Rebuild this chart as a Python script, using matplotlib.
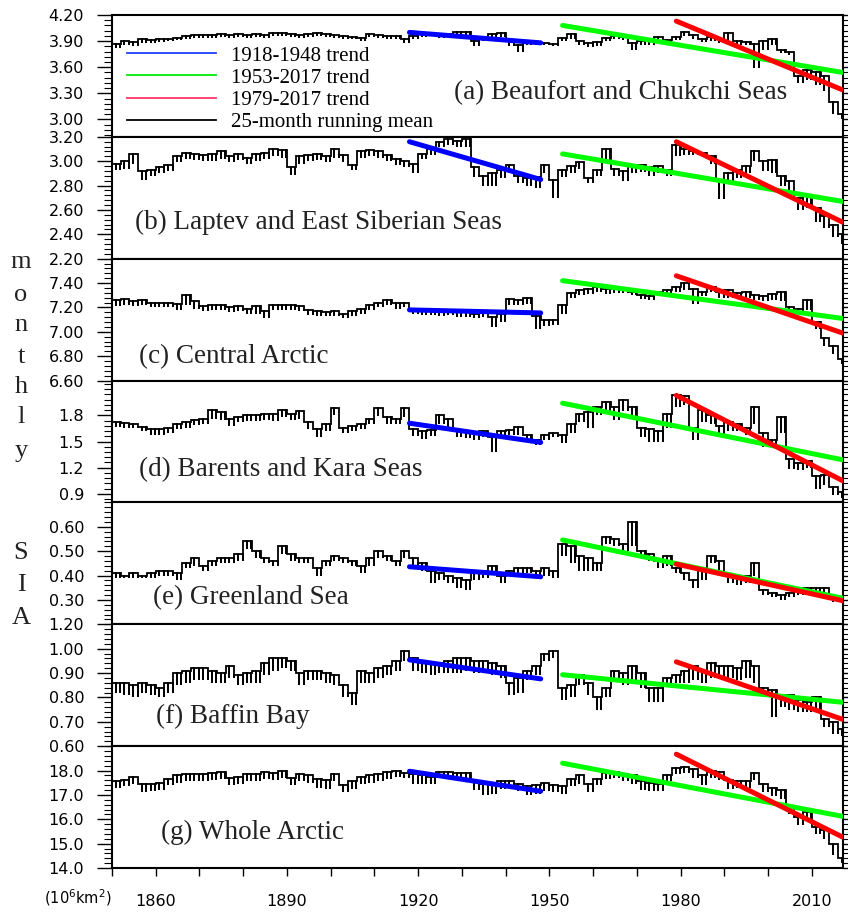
import numpy as np
import matplotlib
matplotlib.use('Agg')
import matplotlib.pyplot as plt
from matplotlib.lines import Line2D
from matplotlib.ticker import MultipleLocator, FixedLocator

# ---------------- data ----------------
bin_start = np.arange(1850, 2017, 2)   # 2-year bins, 1850..2016

# (a) Beaufort and Chukchi Seas: level and spike bottom per bin
bcs_hi = [3.87, 3.90, 3.89, 3.92, 3.91,
          3.92, 3.93, 3.94, 3.96, 3.97,
          3.97, 3.97, 3.98, 3.97, 3.98,
          3.97, 3.98, 3.97, 3.99, 3.99,
          3.98, 3.97, 3.98, 3.99, 3.98,
          3.97, 3.96, 3.95, 3.94, 3.98,
          3.97, 3.96, 3.96, 3.92, 3.96,
          3.98, 3.99, 3.97, 3.98, 4.01,
          4.01, 3.90, 3.94, 3.98, 3.99,
          3.90, 3.85, 3.89, 3.89, 3.88,
          3.87, 3.94, 3.98, 3.90, 3.88,
          3.89, 3.94, 3.96, 3.95, 3.88,
          3.90, 3.91, 3.95, 3.91, 3.95,
          4.00, 3.97, 3.93, 3.95, 3.92,
          3.99, 3.90, 3.89, 3.87, 3.90,
          3.93, 3.80, 3.78, 3.50, 3.57,
          3.55, 3.50, 3.20, 3.06]
bcs_lo = [3.82, 3.85, 3.84, 3.88, 3.88,
          3.89, 3.90, 3.91, 3.93, 3.94,
          3.94, 3.94, 3.95, 3.94, 3.95,
          3.94, 3.95, 3.94, 3.96, 3.96,
          3.95, 3.94, 3.95, 3.96, 3.95,
          3.94, 3.93, 3.92, 3.90, 3.95,
          3.94, 3.93, 3.92, 3.88, 3.92,
          3.95, 3.96, 3.94, 3.95, 3.97,
          3.96, 3.84, 3.90, 3.94, 3.95,
          3.84, 3.78, 3.85, 3.86, 3.85,
          3.84, 3.90, 3.93, 3.85, 3.83,
          3.84, 3.90, 3.93, 3.91, 3.80,
          3.85, 3.86, 3.89, 3.86, 3.91,
          3.96, 3.92, 3.89, 3.90, 3.88,
          3.90, 3.85, 3.85, 3.59, 3.80,
          3.85, 3.76, 3.74, 3.42, 3.45,
          3.40, 3.33, 3.06, 3.00]

# (b) Laptev and East Siberian Seas
les_hi = [2.98, 3.00, 3.06, 2.92, 2.93,
          2.95, 2.97, 3.04, 3.07, 3.06,
          3.05, 3.06, 3.08, 3.04, 3.06,
          3.03, 3.06, 3.07, 3.10, 3.09,
          2.95, 3.04, 3.05, 3.06, 3.04,
          3.10, 3.05, 2.97, 3.08, 3.09,
          3.08, 3.05, 3.02, 3.00, 2.98,
          3.06, 3.10, 3.16, 3.18, 3.17,
          3.18, 2.95, 2.88, 2.90, 2.93,
          2.97, 2.88, 2.86, 2.87, 2.97,
          2.85, 2.93, 2.96, 2.99, 2.86,
          2.93, 3.10, 2.94, 2.92, 2.96,
          2.97, 2.95, 2.96, 2.93, 3.13,
          3.10, 3.08, 3.07, 3.04, 2.85,
          2.90, 2.93, 2.96, 3.08, 3.00,
          3.01, 2.88, 2.84, 2.70, 2.72,
          2.62, 2.55, 2.48, 2.40]
les_lo = [2.93, 2.94, 2.98, 2.85, 2.88,
          2.90, 2.92, 2.99, 3.02, 3.01,
          3.00, 3.00, 3.02, 2.99, 3.01,
          2.98, 3.00, 3.02, 3.04, 3.03,
          2.89, 2.98, 3.00, 3.01, 2.99,
          3.03, 2.99, 2.93, 3.03, 3.04,
          3.03, 3.00, 2.97, 2.95, 2.90,
          3.02, 3.05, 3.12, 3.13, 3.12,
          3.12, 2.87, 2.80, 2.80, 2.86,
          2.90, 2.82, 2.80, 2.78, 2.90,
          2.70, 2.87, 2.90, 2.94, 2.82,
          2.88, 3.00, 2.88, 2.84, 2.90,
          2.91, 2.88, 2.90, 2.88, 3.04,
          3.05, 3.05, 3.04, 2.98, 2.69,
          2.82, 2.86, 2.90, 3.00, 2.92,
          2.90, 2.80, 2.75, 2.60, 2.62,
          2.50, 2.45, 2.38, 2.32]

# (c) Central Arctic
cen_hi = [7.26, 7.27, 7.25, 7.26, 7.24,
          7.24, 7.24, 7.23, 7.30, 7.25,
          7.21, 7.22, 7.22, 7.20, 7.21,
          7.19, 7.21, 7.17, 7.22, 7.22,
          7.22, 7.21, 7.18, 7.17, 7.16,
          7.17, 7.15, 7.17, 7.19, 7.22,
          7.24, 7.26, 7.24, 7.24, 7.19,
          7.17, 7.18, 7.17, 7.18, 7.17,
          7.16, 7.15, 7.16, 7.12, 7.15,
          7.27, 7.26, 7.28, 7.13, 7.10,
          7.10, 7.22, 7.32, 7.34, 7.35,
          7.37, 7.35, 7.36, 7.36, 7.33,
          7.30, 7.29, 7.33, 7.34, 7.37,
          7.40, 7.35, 7.33, 7.37, 7.33,
          7.34, 7.32, 7.33, 7.30, 7.29,
          7.31, 7.33, 7.20, 7.19, 7.26,
          7.08, 6.95, 6.88, 6.78]
cen_lo = [7.21, 7.22, 7.21, 7.22, 7.20,
          7.20, 7.20, 7.18, 7.22, 7.19,
          7.17, 7.18, 7.18, 7.16, 7.17,
          7.15, 7.15, 7.11, 7.18, 7.18,
          7.18, 7.17, 7.14, 7.13, 7.13,
          7.13, 7.11, 7.13, 7.15, 7.18,
          7.20, 7.22, 7.19, 7.20, 7.15,
          7.14, 7.14, 7.13, 7.14, 7.12,
          7.12, 7.11, 7.12, 7.04, 7.08,
          7.22, 7.22, 7.23, 7.02, 7.05,
          7.06, 7.15, 7.28, 7.30, 7.31,
          7.33, 7.31, 7.32, 7.32, 7.30,
          7.27, 7.26, 7.29, 7.30, 7.33,
          7.34, 7.23, 7.29, 7.33, 7.28,
          7.28, 7.27, 7.28, 7.26, 7.25,
          7.26, 7.25, 7.16, 7.15, 7.18,
          7.02, 6.88, 6.82, 6.74]

# (d) Barents and Kara Seas
bks_hi = [1.72, 1.71, 1.70, 1.67, 1.64,
          1.64, 1.66, 1.70, 1.72, 1.75,
          1.76, 1.86, 1.84, 1.76, 1.78,
          1.80, 1.80, 1.82, 1.82, 1.86,
          1.82, 1.85, 1.72, 1.64, 1.70,
          1.89, 1.66, 1.68, 1.70, 1.76,
          1.88, 1.78, 1.76, 1.88, 1.64,
          1.62, 1.63, 1.80, 1.76, 1.62,
          1.61, 1.60, 1.62, 1.55, 1.62,
          1.63, 1.67, 1.58, 1.52, 1.58,
          1.60, 1.58, 1.70, 1.82, 1.84,
          1.90, 1.95, 1.90, 1.98, 1.90,
          1.66, 1.64, 1.62, 1.82, 2.03,
          2.02, 1.65, 1.86, 1.80, 1.68,
          1.72, 1.70, 1.65, 1.90, 1.60,
          1.52, 1.78, 1.30, 1.25, 1.28,
          1.10, 1.12, 0.98, 0.92]
bks_lo = [1.67, 1.66, 1.65, 1.62, 1.58,
          1.58, 1.60, 1.64, 1.66, 1.69,
          1.70, 1.76, 1.75, 1.68, 1.72,
          1.73, 1.74, 1.75, 1.74, 1.78,
          1.75, 1.76, 1.64, 1.55, 1.62,
          1.80, 1.60, 1.62, 1.64, 1.70,
          1.79, 1.70, 1.70, 1.78, 1.56,
          1.53, 1.56, 1.70, 1.67, 1.55,
          1.54, 1.52, 1.55, 1.38, 1.55,
          1.57, 1.58, 1.50, 1.46, 1.52,
          1.55, 1.48, 1.60, 1.72, 1.65,
          1.80, 1.85, 1.75, 1.85, 1.78,
          1.55, 1.50, 1.50, 1.65, 1.90,
          1.92, 1.52, 1.72, 1.70, 1.58,
          1.62, 1.62, 1.58, 1.70, 1.44,
          1.45, 1.60, 1.18, 1.17, 1.20,
          0.95, 1.00, 0.88, 0.85]

# (e) Greenland Sea
grs_hi = [0.41, 0.40, 0.41, 0.40, 0.41,
          0.42, 0.42, 0.41, 0.45, 0.47,
          0.44, 0.46, 0.47, 0.47, 0.49,
          0.54, 0.50, 0.47, 0.46, 0.52,
          0.49, 0.47, 0.47, 0.43, 0.46,
          0.48, 0.47, 0.46, 0.44, 0.47,
          0.50, 0.48, 0.46, 0.50, 0.47,
          0.45, 0.42, 0.41, 0.40, 0.39,
          0.38, 0.41, 0.42, 0.44, 0.40,
          0.42, 0.43, 0.43, 0.42, 0.43,
          0.42, 0.53, 0.52, 0.48, 0.47,
          0.45, 0.56, 0.55, 0.53, 0.62,
          0.50, 0.49, 0.46, 0.48, 0.43,
          0.41, 0.38, 0.43, 0.48, 0.46,
          0.40, 0.39, 0.40, 0.45, 0.34,
          0.33, 0.32, 0.33, 0.34, 0.35,
          0.35, 0.35, 0.31, 0.30]
grs_lo = [0.39, 0.39, 0.39, 0.39, 0.39,
          0.40, 0.40, 0.38, 0.43, 0.44,
          0.42, 0.44, 0.45, 0.45, 0.46,
          0.51, 0.47, 0.45, 0.44, 0.49,
          0.46, 0.45, 0.45, 0.40, 0.44,
          0.46, 0.45, 0.44, 0.41, 0.44,
          0.47, 0.46, 0.44, 0.47, 0.44,
          0.42, 0.37, 0.38, 0.37, 0.35,
          0.34, 0.38, 0.39, 0.41, 0.37,
          0.40, 0.41, 0.41, 0.39, 0.40,
          0.39, 0.48, 0.45, 0.42, 0.42,
          0.42, 0.53, 0.52, 0.50, 0.52,
          0.47, 0.46, 0.43, 0.44, 0.41,
          0.38, 0.35, 0.38, 0.45, 0.42,
          0.37, 0.36, 0.37, 0.40, 0.32,
          0.31, 0.30, 0.31, 0.32, 0.33,
          0.33, 0.32, 0.29, 0.29]

# (f) Baffin Bay
bfb_hi = [0.86, 0.86, 0.85, 0.86, 0.85,
          0.84, 0.86, 0.90, 0.91, 0.92,
          0.92, 0.91, 0.90, 0.93, 0.89,
          0.90, 0.91, 0.94, 0.96, 0.96,
          0.95, 0.90, 0.91, 0.91, 0.90,
          0.89, 0.85, 0.82, 0.91, 0.90,
          0.92, 0.93, 0.95, 0.99, 0.96,
          0.95, 0.94, 0.94, 0.95, 0.96,
          0.96, 0.95, 0.95, 0.94, 0.93,
          0.86, 0.88, 0.91, 0.93, 0.98,
          0.99, 0.84, 0.85, 0.89, 0.86,
          0.80, 0.84, 0.91, 0.90, 0.93,
          0.90, 0.84, 0.84, 0.88, 0.89,
          0.91, 0.93, 0.91, 0.94, 0.93,
          0.93, 0.92, 0.95, 0.93, 0.84,
          0.83, 0.80, 0.81, 0.79, 0.78,
          0.80, 0.71, 0.70, 0.67]
bfb_lo = [0.82, 0.81, 0.80, 0.82, 0.81,
          0.80, 0.82, 0.85, 0.86, 0.87,
          0.87, 0.86, 0.86, 0.88, 0.85,
          0.86, 0.86, 0.89, 0.91, 0.92,
          0.91, 0.85, 0.87, 0.87, 0.86,
          0.85, 0.80, 0.77, 0.86, 0.86,
          0.88, 0.89, 0.91, 0.95, 0.91,
          0.90, 0.89, 0.90, 0.90, 0.90,
          0.91, 0.90, 0.90, 0.89, 0.88,
          0.81, 0.82, 0.87, 0.89, 0.95,
          0.96, 0.79, 0.80, 0.85, 0.81,
          0.75, 0.80, 0.87, 0.85, 0.86,
          0.84, 0.78, 0.78, 0.85, 0.86,
          0.86, 0.87, 0.86, 0.88, 0.88,
          0.88, 0.87, 0.88, 0.86, 0.81,
          0.72, 0.76, 0.75, 0.74, 0.74,
          0.75, 0.68, 0.65, 0.64]

# (g) Whole Arctic
wha_hi = [17.55, 17.60, 17.75, 17.45, 17.45,
          17.50, 17.65, 17.80, 17.85, 17.85,
          17.85, 17.90, 17.95, 17.70, 17.75,
          17.85, 17.85, 17.95, 17.90, 18.00,
          17.70, 17.85, 17.80, 17.65, 17.60,
          17.85, 17.40, 17.55, 17.75, 17.80,
          17.85, 17.95, 18.00, 17.90, 17.85,
          17.80, 17.75, 17.95, 17.95, 17.90,
          17.90, 17.55, 17.45, 17.40, 17.55,
          17.55, 17.45, 17.35, 17.40, 17.50,
          17.40, 17.35, 17.65, 17.80, 17.45,
          17.65, 17.90, 17.95, 17.85, 17.80,
          17.55, 17.50, 17.45, 17.80, 18.10,
          18.15, 18.05, 17.80, 18.00, 17.95,
          17.60, 17.55, 17.55, 17.90, 17.45,
          17.30, 17.20, 16.50, 16.10, 16.30,
          15.70, 15.55, 15.00, 14.40]
wha_lo = [17.30, 17.35, 17.45, 17.10, 17.15,
          17.20, 17.40, 17.50, 17.55, 17.55,
          17.55, 17.60, 17.65, 17.40, 17.45,
          17.55, 17.55, 17.65, 17.60, 17.70,
          17.40, 17.55, 17.50, 17.30, 17.25,
          17.55, 17.10, 17.25, 17.45, 17.50,
          17.55, 17.65, 17.75, 17.70, 17.45,
          17.45, 17.45, 17.70, 17.70, 17.65,
          17.60, 17.20, 17.00, 17.05, 17.25,
          17.30, 17.15, 17.00, 17.05, 17.15,
          17.10, 17.05, 17.35, 17.45, 17.10,
          17.40, 17.65, 17.70, 17.55, 17.45,
          17.20, 17.15, 17.15, 17.55, 17.85,
          17.90, 17.70, 17.40, 17.70, 17.60,
          17.25, 17.30, 17.30, 17.60, 17.10,
          16.95, 16.85, 16.20, 15.75, 15.95,
          15.40, 15.20, 14.55, 14.20]

# trend line end values (panels a..g)
trend1_years = [1918, 1948]
trend1_start = [4.00, 3.16, 7.18, 1.71, 0.436, 0.954, 17.97]
trend1_end = [3.88, 2.85, 7.155, 1.49, 0.395, 0.876, 17.15]
trend2_years = [1953, 2017]
trend2_start = [4.08, 3.06, 7.42, 1.94, 0.546, 0.893, 18.30]
trend2_end = [3.54, 2.67, 7.11, 1.29, 0.307, 0.78, 16.12]
trend3_years = [1979, 2017]
trend3_start = [4.13, 3.16, 7.46, 2.03, 0.447, 0.946, 18.67]
trend3_end = [3.34, 2.50, 6.99, 1.05, 0.297, 0.71, 15.27]

panel_titles = ['(a) Beaufort and Chukchi Seas', '(b) Laptev and East Siberian Seas',
                '(c) Central Arctic', '(d) Barents and Kara Seas', '(e) Greenland Sea',
                '(f) Baffin Bay', '(g) Whole Arctic']

yticks_a = [3.00, 3.30, 3.60, 3.90, 4.20]
ylabels_a = ['3.00', '3.30', '3.60', '3.90', '4.20']
yticks_b = [2.20, 2.40, 2.60, 2.80, 3.00, 3.20]
ylabels_b = ['2.20', '2.40', '2.60', '2.80', '3.00', '3.20']
yticks_c = [6.60, 6.80, 7.00, 7.20, 7.40]
ylabels_c = ['6.60', '6.80', '7.00', '7.20', '7.40']
yticks_d = [0.9, 1.2, 1.5, 1.8]
ylabels_d = ['0.9', '1.2', '1.5', '1.8']
yticks_e = [0.30, 0.40, 0.50, 0.60]
ylabels_e = ['0.30', '0.40', '0.50', '0.60']
yticks_f = [0.60, 0.70, 0.80, 0.90, 1.00, 1.10]
ylabels_f = ['0.60', '0.70', '0.80', '0.90', '1.00', '1.20']
yticks_g = [14.0, 15.0, 16.0, 17.0, 18.0]
ylabels_g = ['14.0', '15.0', '16.0', '17.0', '18.0']

xtick_years = [1860, 1890, 1920, 1950, 1980, 2010]
xtick_labels = ['1860', '1890', '1920', '1950', '1980', '2010']

legend_labels = ['1918-1948 trend', '1953-2017 trend', '1979-2017 trend', '25-month running mean']

side_letters = ['m', 'o', 'n', 't', 'h', 'l', 'y', 'S', 'I', 'A']

# ---------------- layout / style ----------------
W, H = 848, 913
SERIF = ['Liberation Serif', 'DejaVu Serif']
SANS = ['DejaVu Sans']
plt.rcParams['font.family'] = SANS
plt.rcParams['mathtext.fontset'] = 'dejavusans'

panels = [
    dict(hi=bcs_hi, lo=bcs_lo, ylim=(2.8, 4.2), ticks=yticks_a, labels=ylabels_a, minor=0.06, tpos=(0.468, 0.36)),
    dict(hi=les_hi, lo=les_lo, ylim=(2.2, 3.2), ticks=yticks_b, labels=ylabels_b, minor=0.04, tpos=(0.031, 0.30)),
    dict(hi=cen_hi, lo=cen_lo, ylim=(6.6, 7.6), ticks=yticks_c, labels=ylabels_c, minor=0.04, tpos=(0.037, 0.20)),
    dict(hi=bks_hi, lo=bks_lo, ylim=(0.8, 2.2), ticks=yticks_d, labels=ylabels_d, minor=0.06, tpos=(0.037, 0.27)),
    dict(hi=grs_hi, lo=grs_lo, ylim=(0.2, 0.7), ticks=yticks_e, labels=ylabels_e, minor=0.02, tpos=(0.056, 0.22)),
    dict(hi=bfb_hi, lo=bfb_lo, ylim=(0.6, 1.1), ticks=yticks_f, labels=ylabels_f, minor=0.02, tpos=(0.060, 0.24)),
    dict(hi=wha_hi, lo=wha_lo, ylim=(14.0, 19.0), ticks=yticks_g, labels=ylabels_g, minor=0.2, tpos=(0.067, 0.29)),
]


def comb(x0s, hi, lo):
    xs, ys = [], []
    for x0, h, l in zip(x0s, hi, lo):
        for k in (0, 1):
            xa = x0 + k
            xs += [xa, xa + 0.85, xa + 0.85, xa + 0.85, xa + 1.0]
            ys += [h, h, l, h, h]
    return np.array(xs), np.array(ys)


fig = plt.figure(figsize=(W / 100, H / 100), dpi=100)
left_px, right_px, top_px, bot_px = 112, 843, 15, 868
ph = (bot_px - top_px) / 7.0
axes = []
for i, p in enumerate(panels):
    y_top = top_px + i * ph
    ax = fig.add_axes([left_px / W, 1 - (y_top + ph) / H, (right_px - left_px) / W, ph / H])
    axes.append(ax)
    xs, ys = comb(bin_start, p['hi'], p['lo'])
    ax.plot(xs, ys, color='black', lw=1.3, solid_joinstyle='miter', zorder=2)
    ax.plot(trend1_years, [trend1_start[i], trend1_end[i]], color='#0000ff', lw=3.6,
            solid_capstyle='round', zorder=3)
    ax.plot(trend2_years, [trend2_start[i], trend2_end[i]], color='#00ff00', lw=3.6,
            solid_capstyle='round', zorder=3)
    ax.plot(trend3_years, [trend3_start[i], trend3_end[i]], color='#ff0000', lw=3.6,
            solid_capstyle='round', zorder=4)
    ax.set_xlim(1850, 2017.1)
    ax.set_ylim(*p['ylim'])
    ax.yaxis.set_major_locator(FixedLocator(p['ticks']))
    ax.set_yticklabels(p['labels'])
    ax.yaxis.set_minor_locator(MultipleLocator(p['minor']))
    ax.tick_params(axis='y', which='major', direction='out', length=10.5, width=1.0,
                   pad=9.5, labelsize=11.5, left=True, right=True, labelright=False)
    ax.tick_params(axis='y', which='minor', direction='out', length=5.5, width=0.8,
                   left=True, right=True)
    for s in ax.spines.values():
        s.set_linewidth(1.5)
    ax.text(p['tpos'][0], p['tpos'][1], panel_titles[i], transform=ax.transAxes,
            ha='left', va='center', fontsize=19.5, family=SERIF, color='#222222')
    if i < 6:
        ax.tick_params(axis='x', which='both', bottom=False, top=False, labelbottom=False)
    else:
        ax.xaxis.set_major_locator(FixedLocator(xtick_years))
        ax.set_xticklabels(xtick_labels)
        ax.xaxis.set_minor_locator(MultipleLocator(10))
        ax.tick_params(axis='x', which='both', direction='out', length=5.5, width=1.0,
                       top=False)
        ax.tick_params(axis='x', which='major', pad=13.5, labelsize=11.5)

# legend in panel (a)
handles = [Line2D([], [], color='#1f3fff', lw=1.3),
           Line2D([], [], color='#00ee00', lw=1.3),
           Line2D([], [], color='#ff3366', lw=1.3),
           Line2D([], [], color='black', lw=1.3)]
axes[0].legend(handles, legend_labels, loc='upper left', bbox_to_anchor=(0.0205, 0.745),
               frameon=False, borderpad=0, borderaxespad=0, handlelength=4.27,
               handletextpad=0.72, labelspacing=0.12, prop={'family': SERIF, 'size': 15})

# vertical "monthly SIA" label
letter_y = [262, 295, 325, 357, 387, 417, 451, 553, 585, 618]
for ch, yy in zip(side_letters, letter_y):
    fig.text(21 / W, 1 - yy / H, ch, ha='center', va='center', fontsize=19,
             family=SERIF, color='#222222')

fig.text(78 / W, 1 - 898 / H, '(10$^6$km$^2$)', ha='center', va='center', fontsize=10.5)

fig.savefig('out.png', dpi=100)
